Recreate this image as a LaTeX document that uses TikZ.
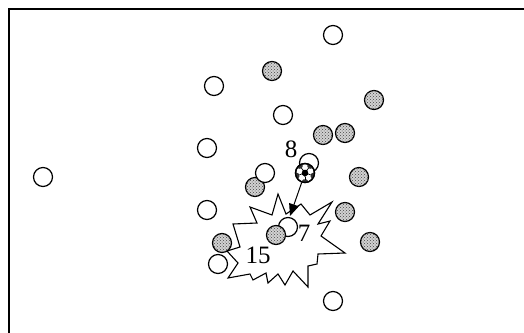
\documentclass[tikz,border=0pt]{standalone}
\usepackage{fontspec}
\setmainfont{Liberation Serif}
\usetikzlibrary{patterns,arrows.meta}

\begin{document}
\begin{tikzpicture}[
    x=1pt, y=-1pt,
    every node/.style={font=\fontsize{25}{27}\selectfont},
    player/.style={
        draw,
        circle,
        line width=1.2pt,
        minimum size=19pt,
        inner sep=0pt,
        fill=white
    },
    dotplayer/.style={
        player,
        fill=gray!35,
        postaction={pattern=crosshatch dots, pattern color=gray!55!black}
    },
    num/.style={inner sep=0pt},
    burst/.style={draw, line width=1.1pt, fill=white, line join=miter},
    arrow/.style={-{Triangle[length=12pt,width=10pt]}, line width=1pt}
]

\useasboundingbox (0,0) rectangle (524,332);
\clip (0,0) rectangle (524,332);

% Field frame
\draw[line width=1.6pt] (9,9) rectangle (545,350);

% Collision burst
\draw[burst] (278,194) -- (286,214) -- (301,204) -- (310,215) -- (332,202)
    -- (318,224) -- (330,221) -- (321,236) -- (345,253) -- (318,254)
    -- (317,264) -- (308,266) -- (308,287) -- (293,271) -- (285,285)
    -- (278,274) -- (268,283) -- (266,273) -- (253,280) -- (250,274)
    -- (228,278) -- (238,263) -- (227,251) -- (240,247) -- (233,224)
    -- (257,223) -- (250,207) -- (272,215) -- cycle;

% Team A (open)
\node[player] (a1) at (333,35) {};
\node[player] (a2) at (214,86) {};
\node[player] (a3) at (283,115) {};
\node[player] (a4) at (207,148) {};
\node[player] (a5) at (43,177) {};
\node[dotplayer] (b6) at (255,187) {};
\node[player] (a6) at (265,173) {};
\node[player] (a7) at (309,163) {};
\node[player] (a8) at (207,210) {};
\node[player] (a9) at (288,227) {};
\node[player] (a10) at (218,264) {};
\node[player] (a11) at (333,301) {};

% Team B (dotted)
\node[dotplayer] (b1) at (272,71) {};
\node[dotplayer] (b2) at (374,100) {};
\node[dotplayer] (b3) at (323,135) {};
\node[dotplayer] (b4) at (345,133) {};
\node[dotplayer] (b5) at (359,177) {};
\node[dotplayer] (b7) at (345,212) {};
\node[dotplayer] (b8) at (222,243) {};
\node[dotplayer] (b9) at (276,235) {};
\node[dotplayer] (b10) at (370,242) {};

% Ball
\node[player] (ball) at (305,173) {};
\begin{scope}[shift={(ball.center)}]
    \foreach \ang in {90,162,234,306,18}
        \fill[black!80] (\ang-22:9) arc[start angle=\ang-22, end angle=\ang+22, radius=9]
            -- (\ang+14:6.5) -- (\ang-14:6.5) -- cycle;
    \fill[black] (90:3.8) -- (162:3.8) -- (234:3.8) -- (306:3.8) -- (18:3.8) -- cycle;
    \foreach \ang in {90,162,234,306,18}
        \draw[line width=0.7pt] (\ang:3.8) -- (\ang:6.5);
    \draw[line width=1.4pt] (0,0) circle[radius=9.5];
\end{scope}

% Shot
\coordinate (hit) at (290,216);
\draw[arrow] (ball) -- (hit);

% Numbers
\node[num] (n8) at (291,149) {8};
\node[num] (n7) at (304,233) {7};
\node[num] (n15) at (258,255) {15};

\end{tikzpicture}
\end{document}
